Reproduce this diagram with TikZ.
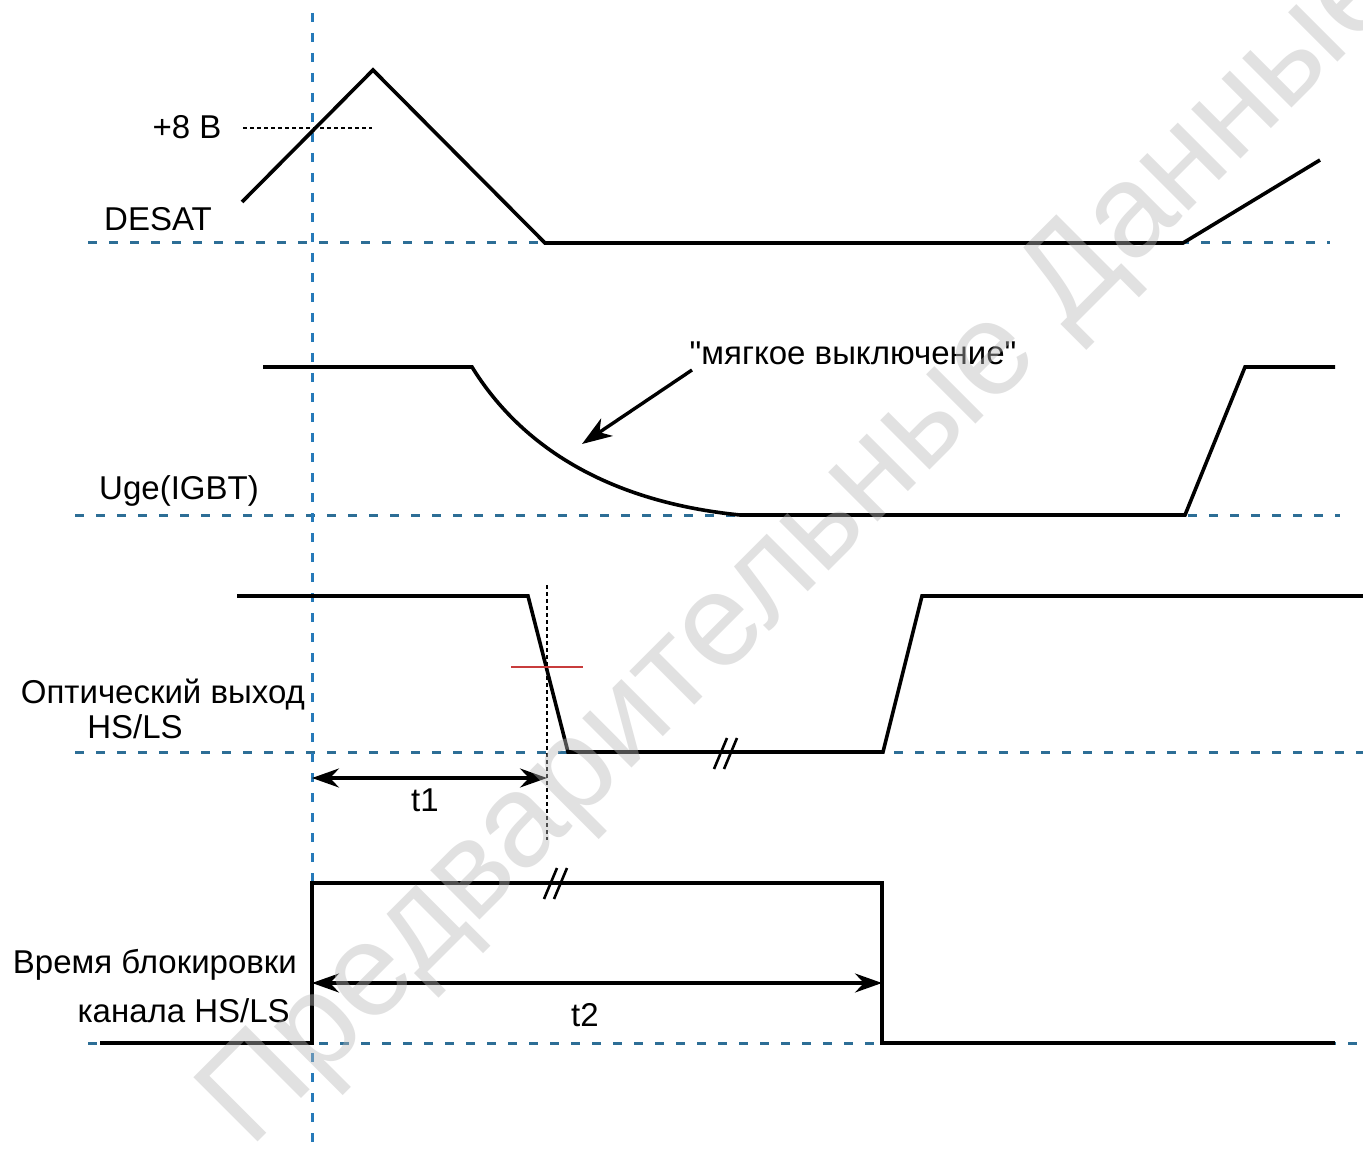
\documentclass[tikz,border=0pt]{standalone}
\usepackage{fontspec}
\setmainfont{Liberation Sans}[Ligatures=TeXOff]
\usetikzlibrary{arrows.meta}
\definecolor{gridh}{RGB}{45,110,150}
\definecolor{gridv}{RGB}{38,122,185}
\definecolor{redmark}{RGB}{200,60,60}
\definecolor{wmark}{RGB}{184,184,184}
\tikzset{
  wave/.style={line width=3.6pt, black, line join=miter},
  basegrid/.style={line width=3pt, gridh, dash pattern=on 9pt off 12pt},
  vgrid/.style={line width=3pt, gridv, dash pattern=on 9pt off 11pt},
  thindash/.style={line width=1.3pt, black, dash pattern=on 4pt off 3pt},
  lbl/.style={font=\fontsize{33}{38}\selectfont, inner sep=0pt},
  dimarrow/.style={line width=3.4pt, {Stealth[length=27pt,width=19pt,inset=9pt]}-{Stealth[length=27pt,width=19pt,inset=9pt]}},
  notearrow/.style={line width=3.4pt, -{Stealth[length=30pt,width=21pt,inset=9pt]}},
  brk/.style={line width=2.6pt, black},
}
\begin{document}
\begin{tikzpicture}[x=1pt,y=-1pt]
\useasboundingbox (0,0) rectangle (1363,1155);
\fill[white] (0,0) rectangle (1363,1155);

% baselines
\draw[basegrid] (88,243) -- (1330,243);
\draw[basegrid] (75,515) -- (1340,515);
\draw[basegrid] (75,752) -- (1363,752);
\draw[basegrid] (88,1043) -- (1363,1043);
% vertical reference
\draw[vgrid] (312,13) -- (312,1150);

% DESAT
\coordinate (d0) at (242,202);
\coordinate (d1) at (373,70);
\coordinate (d2) at (545,243);
\coordinate (d3) at (1183,243);
\coordinate (d4) at (1320,160);
\draw[wave] (d0) -- (d1) -- (d2) -- (d3) -- (d4);
\coordinate (v8a) at (243,128);
\coordinate (v8b) at (372,128);
\draw[thindash] (v8a) -- (v8b);
\node[lbl] (l8) at (187,127) {+8 В};
\node[lbl] (ldesat) at (158,219) {DESAT};

% Uge
\coordinate (u0) at (263,367);
\coordinate (u1) at (472,367);
\coordinate (u2) at (740,515);
\coordinate (u3) at (1185,515);
\coordinate (u4) at (1245,367);
\coordinate (u5) at (1335,367);
\draw[wave] (u0) -- (u1) .. controls (522,448) and (610,502) .. (u2) -- (u3) -- (u4) -- (u5);
\node[lbl] (luge) at (179,491) {Uge(IGBT)};
\node[lbl] (lsoft) at (853,353) {"мягкое выключение"};
\coordinate (sa) at (692,370);
\coordinate (sb) at (582,444);
\draw[notearrow] (sa) -- (sb);

% Optical output
\coordinate (o0) at (237,596);
\coordinate (o1) at (528,596);
\coordinate (o2) at (568,752);
\coordinate (o3) at (883,752);
\coordinate (o4) at (922,596);
\coordinate (o5) at (1363,596);
\draw[wave] (o0) -- (o1) -- (o2) -- (o3) -- (o4) -- (o5);
\draw[line width=1.4pt, redmark] (511,667) -- (583,667);
\coordinate (t1r) at (547,778);
\coordinate (t1l) at (312,778);
\draw[thindash] (547,585) -- (547,840);
\draw[dimarrow] (t1l) -- (t1r);
\node[lbl] (lt1) at (425,800) {t1};
\draw[brk] (714,769) -- (727,738);
\draw[brk] (724,769) -- (737,738);
\node[lbl, anchor=east] (lopt1) at (305,695) {Оптический выход};
\node[lbl] (lopt2) at (135,727) {HS/LS};

% Blocking time
\coordinate (b0) at (100,1043);
\coordinate (b1) at (312,1043);
\coordinate (b2) at (312,883);
\coordinate (b3) at (882,883);
\coordinate (b4) at (882,1043);
\coordinate (b5) at (1335,1043);
\draw[wave] (b0) -- (b1) -- (b2) -- (b3) -- (b4) -- (b5);
\draw[brk] (544,899) -- (557,868);
\draw[brk] (554,899) -- (567,868);
\coordinate (t2l) at (312,983);
\coordinate (t2r) at (882,983);
\draw[dimarrow] (t2l) -- (t2r);
\node[lbl] (lt2) at (585,1015) {t2};
\node[lbl, anchor=east] (lblk1) at (297,965) {Время блокировки};
\node[lbl, anchor=east] (lblk2) at (290,1011) {канала HS/LS};

% watermark
\node[anchor=base west, rotate=45, text=wmark, text opacity=0.42, inner sep=0pt,
      font=\fontsize{132}{140}\selectfont] (wm) at (250,1150) {Предварительные Данные};
\end{tikzpicture}
\end{document}
